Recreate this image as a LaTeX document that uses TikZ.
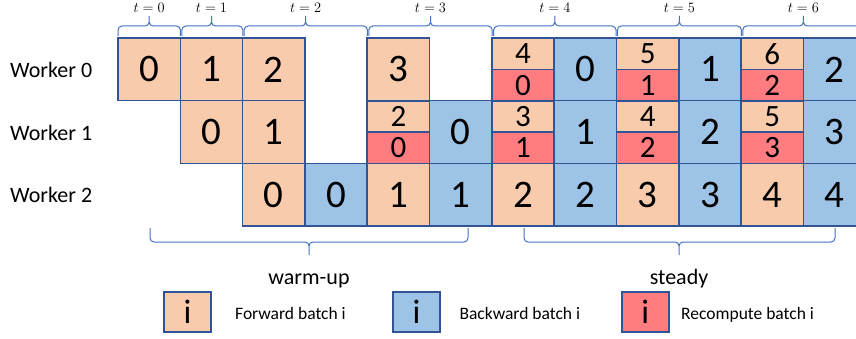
\documentclass[tikz,border=0pt]{standalone}
\usepackage{fontspec}
\setmainfont{Carlito}
\usetikzlibrary{positioning}

\definecolor{fwdfill}{HTML}{F8CBAD}
\definecolor{bwdfill}{HTML}{9DC3E6}
\definecolor{recfill}{HTML}{FF7C80}
\definecolor{cellline}{HTML}{2F5597}
\definecolor{braceline}{HTML}{4472C4}

\begin{document}
\begin{tikzpicture}[x=1pt,y=-1pt,
                    cell/.style={draw=cellline,line width=1.6pt,inner sep=0pt,outer sep=0pt,
                      minimum width=62.3pt,minimum height=62.7pt,font=\fontsize{39}{39}\selectfont},
                    half/.style={cell,minimum height=31.35pt,font=\fontsize{31}{31}\selectfont},
                    fwd node/.style={cell,fill=fwdfill},
                    bwd node/.style={cell,fill=bwdfill},
                    fwd half/.style={half,fill=fwdfill},
                    rec half/.style={half,fill=recfill},
                    span brace/.style={draw=braceline,line width=1pt,rounded corners=4pt},
                    time label/.style={above=2.5pt,inner sep=0pt,font=\fontsize{15}{15}\selectfont},
                    worker label/.style={anchor=base west,inner sep=0pt,font=\fontsize{22}{26}\selectfont},
                    key box/.style={draw=cellline,line width=1.6pt,inner sep=0pt,
                      minimum width=47pt,minimum height=40pt,font=\fontsize{34}{34}\selectfont},
                    key text/.style={anchor=base west,inner sep=0pt,font=\fontsize{17.5}{20}\selectfont}]

  \useasboundingbox[fill=white] (0,0) rectangle (856,339);

  % workers
  \node[worker label] (w0) at (10,77.5) {Worker 0};
  \node[worker label] (w1) at (10,140.1) {Worker 1};
  \node[worker label] (w2) at (10,202.8) {Worker 2};

  % worker 0
  \node[fwd node] (a0) at (149.2,69.35) {0};
  \node[fwd node] (a1) at (211.5,69.35) {1};
  \node[fwd node] (a2) at (273.8,69.35) {2};
  \node[fwd node] (a3) at (398.4,69.35) {3};
  \node[fwd half] (a4) at (523.0,53.7) {4};
  \node[rec half] (a4r) [below=0pt of a4] {0};
  \node[bwd node] (a5) at (585.3,69.35) {0};
  \node[fwd half] (a6) at (647.6,53.7) {5};
  \node[rec half] (a6r) [below=0pt of a6] {1};
  \node[bwd node] (a7) at (709.9,69.35) {1};
  \node[fwd half] (a8) at (772.2,53.7) {6};
  \node[rec half] (a8r) [below=0pt of a8] {2};
  \node[bwd node] (a9) at (834.5,69.35) {2};

  % worker 1
  \node[fwd node] (b0) at (211.5,132.05) {0};
  \node[fwd node] (b1) at (273.8,132.05) {1};
  \node[fwd half] (b2) at (398.4,116.4) {2};
  \node[rec half] (b2r) [below=0pt of b2] {0};
  \node[bwd node] (b3) at (460.7,132.05) {0};
  \node[fwd half] (b4) at (523.0,116.4) {3};
  \node[rec half] (b4r) [below=0pt of b4] {1};
  \node[bwd node] (b5) at (585.3,132.05) {1};
  \node[fwd half] (b6) at (647.6,116.4) {4};
  \node[rec half] (b6r) [below=0pt of b6] {2};
  \node[bwd node] (b7) at (709.9,132.05) {2};
  \node[fwd half] (b8) at (772.2,116.4) {5};
  \node[rec half] (b8r) [below=0pt of b8] {3};
  \node[bwd node] (b9) at (834.5,132.05) {3};

  % worker 2
  \node[fwd node] (c0) at (273.8,194.75) {0};
  \node[bwd node] (c1) [right=0pt of c0] {0};
  \node[fwd node] (c2) [right=0pt of c1] {1};
  \node[bwd node] (c3) [right=0pt of c2] {1};
  \node[fwd node] (c4) [right=0pt of c3] {2};
  \node[bwd node] (c5) [right=0pt of c4] {2};
  \node[fwd node] (c6) [right=0pt of c5] {3};
  \node[bwd node] (c7) [right=0pt of c6] {3};
  \node[fwd node] (c8) [right=0pt of c7] {4};
  \node[bwd node] (c9) [right=0pt of c8] {4};

  % time steps
  \draw[span brace] (118,36) -- (118,26) -- (149.2,26) -- (149.2,16) node[time label] (t0) {$t=0$}
                    (180.4,36) -- (180.4,26) -- (149.2,26) -- (149.2,16);
  \draw[span brace] (181.8,36) -- (181.8,26) -- (211.5,26) -- (211.5,16) node[time label] (t1) {$t=1$}
                    (242.8,36) -- (242.8,26) -- (211.5,26) -- (211.5,16);
  \draw[span brace] (244.2,36) -- (244.2,26) -- (305.6,26) -- (305.6,16) node[time label] (t2) {$t=2$}
                    (367.4,36) -- (367.4,26) -- (305.6,26) -- (305.6,16);
  \draw[span brace] (368.8,36) -- (368.8,26) -- (430.5,26) -- (430.5,16) node[time label] (t3) {$t=3$}
                    (492.2,36) -- (492.2,26) -- (430.5,26) -- (430.5,16);
  \draw[span brace] (493.6,36) -- (493.6,26) -- (554.8,26) -- (554.8,16) node[time label] (t4) {$t=4$}
                    (616,36) -- (616,26) -- (554.8,26) -- (554.8,16);
  \draw[span brace] (617.4,36) -- (617.4,26) -- (679.4,26) -- (679.4,16) node[time label] (t5) {$t=5$}
                    (741.4,36) -- (741.4,26) -- (679.4,26) -- (679.4,16);
  \draw[span brace] (742.8,36) -- (742.8,26) -- (803.4,26) -- (803.4,16) node[time label] (t6) {$t=6$}
                    (866,36) -- (866,26) -- (803.4,26) -- (803.4,16);

  % phases
  \draw[span brace] (150,228) -- (150,242) -- (309,242) -- (309,255)
                    (468,228) -- (468,242) -- (309,242) -- (309,255);
  \draw[span brace] (524,228) -- (524,242) -- (679,242) -- (679,255)
                    (835,228) -- (835,242) -- (679,242) -- (679,255);
  \node[anchor=base,font=\fontsize{22}{26}\selectfont] (warm) at (309,284) {warm-up};
  \node[anchor=base,font=\fontsize{22}{26}\selectfont] (steady) at (679,284) {steady};

  % key
  \node[key box,fill=fwdfill] (kf) at (187.5,312) {i};
  \node[key text] (kft) at (235,319) {Forward batch i};
  \node[key box,fill=bwdfill] (kb) at (416.5,312) {i};
  \node[key text] (kbt) at (459.3,319) {Backward batch i};
  \node[key box,fill=recfill] (kr) at (645.3,312) {i};
  \node[key text] (krt) at (681,319) {Recompute batch i};
\end{tikzpicture}
\end{document}
